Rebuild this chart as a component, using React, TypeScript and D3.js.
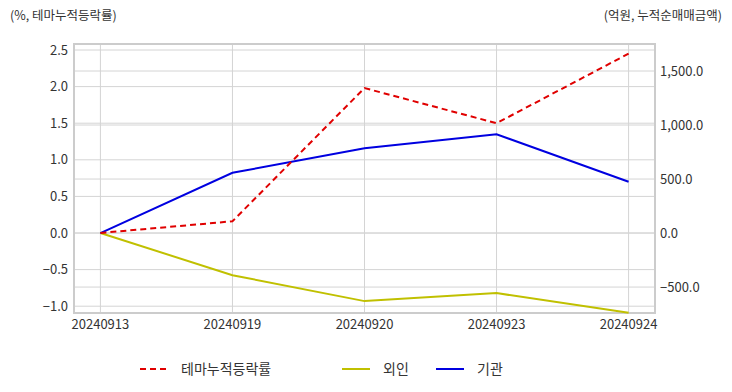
import React, { useEffect, useRef } from 'react'
import * as d3 from 'd3'

const dates = ['20240913', '20240919', '20240920', '20240923', '20240924']
const themeRate = [0.0, 0.16, 1.98, 1.5, 2.45]
const foreign = [0, -390, -630, -556, -738]
const institution = [0, 558, 784, 914, 475]
const leftTicks = [-1.0, -0.5, 0.0, 0.5, 1.0, 1.5, 2.0, 2.5]
const rightTicks = [-500, 0, 500, 1000, 1500]

const font = '"Noto Sans CJK KR", "Noto Sans", sans-serif'

const Chart = () => {
  const ref = useRef<SVGSVGElement>(null)

  useEffect(() => {
    const svg = d3.select(ref.current)
    svg.selectAll('*').remove()

    const left = 74
    const right = 655
    const top = 44
    const bottom = 313

    const x = d3.scalePoint<string>().domain(dates).range([left, right]).padding(0.2)
    const yL = d3.scaleLinear().domain([-1.093, 2.582]).range([bottom, top])
    const yR = d3.scaleLinear().domain([-740, 1750]).range([bottom, top])

    const grid = svg.append('g')
    leftTicks.forEach(t => {
      grid.append('line').attr('x1', left).attr('x2', right)
        .attr('y1', yL(t)).attr('y2', yL(t))
        .attr('stroke', '#d4d4d4').attr('stroke-width', 1)
    })
    rightTicks.forEach(t => {
      grid.append('line').attr('x1', left).attr('x2', right)
        .attr('y1', yR(t)).attr('y2', yR(t))
        .attr('stroke', '#d4d4d4').attr('stroke-width', 1)
    })
    dates.forEach(d => {
      grid.append('line').attr('x1', x(d)!).attr('x2', x(d)!)
        .attr('y1', top).attr('y2', bottom)
        .attr('stroke', '#d4d4d4').attr('stroke-width', 1)
    })
    svg.append('rect')
      .attr('x', left).attr('y', top)
      .attr('width', right - left).attr('height', bottom - top)
      .attr('fill', 'none').attr('stroke', '#cccccc').attr('stroke-width', 2)

    // left axis labels
    svg.append('g').selectAll('text').data(leftTicks).join('text')
      .attr('x', 68).attr('y', d => yL(d)).attr('dy', '0.35em')
      .attr('text-anchor', 'end')
      .attr('font-size', 13).attr('fill', '#333').attr('font-family', font)
      .text(d => d3.format('.1f')(d))

    // right axis labels
    svg.append('g').selectAll('text').data(rightTicks).join('text')
      .attr('x', 660).attr('y', d => yR(d)).attr('dy', '0.35em')
      .attr('font-size', 13).attr('fill', '#333').attr('font-family', font)
      .text(d => d3.format(',.1f')(d))

    // x labels
    svg.append('g').selectAll('text').data(dates).join('text')
      .attr('x', d => x(d)!).attr('y', 324).attr('dy', '0.35em')
      .attr('text-anchor', 'middle')
      .attr('font-size', 13).attr('fill', '#333').attr('font-family', font)
      .text(d => d)

    const lineL = d3.line<number>().x((_, i) => x(dates[i])!).y(d => yL(d))
    const lineR = d3.line<number>().x((_, i) => x(dates[i])!).y(d => yR(d))

    svg.append('path').attr('d', lineR(foreign)!)
      .attr('fill', 'none').attr('stroke', '#c0c000').attr('stroke-width', 2)
    svg.append('path').attr('d', lineR(institution)!)
      .attr('fill', 'none').attr('stroke', '#0000e0').attr('stroke-width', 2)
    svg.append('path').attr('d', lineL(themeRate)!)
      .attr('fill', 'none').attr('stroke', '#e00000').attr('stroke-width', 2)
      .attr('stroke-dasharray', '6,4')

    // axis titles
    svg.append('text').attr('x', 10).attr('y', 16).attr('dy', '0.35em')
      .attr('font-size', 12.5).attr('fill', '#333').attr('font-family', font)
      .text('(%, 테마누적등락률)')
    svg.append('text').attr('x', 722).attr('y', 16).attr('dy', '0.35em')
      .attr('text-anchor', 'end')
      .attr('font-size', 12.5).attr('fill', '#333').attr('font-family', font)
      .text('(억원, 누적순매매금액)')

    // legend
    const legend = [
      { name: '테마누적등락률', color: '#e00000', dash: '6,4', x: 140 },
      { name: '외인', color: '#c0c000', dash: null, x: 342 },
      { name: '기관', color: '#0000e0', dash: null, x: 436 }
    ]
    const lg = svg.append('g')
    legend.forEach(l => {
      lg.append('line').attr('x1', l.x).attr('x2', l.x + 28)
        .attr('y1', 369).attr('y2', 369)
        .attr('stroke', l.color).attr('stroke-width', 2)
        .attr('stroke-dasharray', l.dash)
      lg.append('text').attr('x', l.x + 41).attr('y', 369).attr('dy', '0.35em')
        .attr('font-size', 14).attr('fill', '#333').attr('font-family', font)
        .text(l.name)
    })
  }, [])

  return <svg ref={ref} width={732} height={392} style={{ display: 'block' }} />
}

const App = () => {
  return (
    <div style={{ margin: -8, width: 732, height: 392, background: '#fff' }}>
      <Chart />
    </div>
  )
}

export default App
